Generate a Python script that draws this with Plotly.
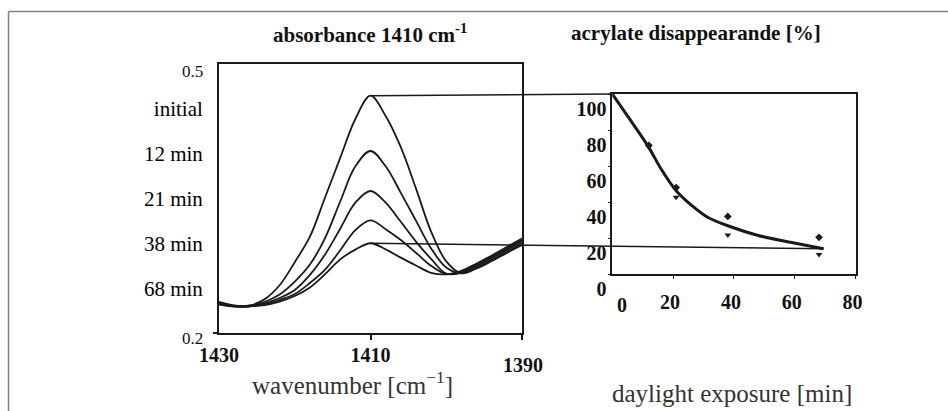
import plotly.graph_objects as go

# ---------------- data ----------------
wavenumber = [1430, 1428, 1426, 1424, 1422, 1420, 1418, 1416, 1414, 1412, 1410,
              1408, 1406, 1404, 1402, 1400, 1398, 1396, 1394, 1392, 1390]
abs_initial = [0.2349, 0.2310, 0.2310, 0.2378, 0.2535, 0.2792, 0.3076, 0.3513, 0.3954, 0.4387, 0.4647,
               0.4421, 0.4073, 0.3614, 0.3133, 0.2801, 0.2668, 0.2722, 0.2805, 0.2895, 0.2984]
abs_12min = [0.2338, 0.2304, 0.2304, 0.2349, 0.2432, 0.2576, 0.2766, 0.3061, 0.3468, 0.3860, 0.4031,
             0.3860, 0.3565, 0.3255, 0.2946, 0.2733, 0.2669, 0.2733, 0.2819, 0.2909, 0.3000]
abs_21min = [0.2332, 0.2301, 0.2301, 0.2332, 0.2393, 0.2483, 0.2651, 0.2878, 0.3165, 0.3455, 0.3585,
             0.3455, 0.3242, 0.3022, 0.2829, 0.2664, 0.2674, 0.2750, 0.2839, 0.2929, 0.3023]
abs_38min = [0.2326, 0.2299, 0.2301, 0.2321, 0.2371, 0.2438, 0.2561, 0.2710, 0.2925, 0.3150, 0.3259,
             0.3160, 0.3039, 0.2898, 0.2752, 0.2661, 0.2688, 0.2763, 0.2852, 0.2945, 0.3039]
abs_68min = [0.2321, 0.2299, 0.2300, 0.2315, 0.2354, 0.2416, 0.2511, 0.2659, 0.2824, 0.2932, 0.3003,
             0.2935, 0.2843, 0.2755, 0.2674, 0.2657, 0.2696, 0.2778, 0.2867, 0.2961, 0.3056]

spectra_ticks = [0.25, 0.3, 0.35, 0.4, 0.45]
spectra_ticktext = ["68 min", "38 min", "21 min", "12 min", "initial"]
absorb_limits = ["0.2", "0.5"]
wn_ticks = [1430, 1410]

exposure_min = [12, 21, 38, 68]
disappear_a = [71.5, 48.0, 32.0, 20.4]   # diamonds
disappear_b = [70.5, 42.6, 21.7, 10.9]   # triangles
fit_t = [0, 4.7, 11.7, 16, 21, 26, 31.5, 38, 48, 59, 69.5]
fit_v = [100, 88.5, 71.2, 58.5, 46.3, 38.3, 31.4, 26.8, 21.4, 17.5, 14.0]
exp_ticks = [20, 40, 60, 80]
pct_ticks = [0, 20, 40, 60, 80, 100]

# ---------------- layout geometry ----------------
W, H = 948, 411
XL_DOM = [219 / W, 522 / W]
YL_DOM = [1 - 333.3 / H, 1 - 64 / H]
XR_DOM = [612.3 / W, 855.5 / W]
YR_DOM = [1 - 274 / H, 1 - 94 / H]
XL_RANGE = [1430, 1390]
YL_RANGE = [0.2, 0.5]
XR_RANGE = [0, 80]
YR_RANGE = [0, 100]

FONT = "Liberation Serif, Times New Roman, serif"
INK = "#1a1a1a"


def to_paper(v, rng, dom):
    f = (v - rng[0]) / (rng[1] - rng[0])
    return dom[0] + f * (dom[1] - dom[0])


fig = go.Figure()

for ys in [abs_initial, abs_12min, abs_21min, abs_38min, abs_68min]:
    fig.add_trace(go.Scatter(x=wavenumber, y=ys, mode="lines",
                             line=dict(color=INK, width=1.8, shape="spline", smoothing=1.0),
                             xaxis="x", yaxis="y", hoverinfo="skip"))

fig.add_trace(go.Scatter(x=fit_t, y=fit_v, mode="lines",
                         line=dict(color=INK, width=3, shape="spline", smoothing=0.8),
                         xaxis="x2", yaxis="y2", hoverinfo="skip"))
fig.add_trace(go.Scatter(x=exposure_min, y=disappear_a, mode="markers",
                         marker=dict(symbol="diamond", size=6, color=INK),
                         xaxis="x2", yaxis="y2"))
fig.add_trace(go.Scatter(x=exposure_min, y=disappear_b, mode="markers",
                         marker=dict(symbol="triangle-down", size=6, color=INK),
                         xaxis="x2", yaxis="y2"))

numfont = dict(family=FONT, size=20, color="#111", weight="bold")
catfont = dict(family=FONT, size=21, color="#000")

fig.update_layout(
    template="none",
    width=W, height=H,
    margin=dict(l=0, r=0, t=0, b=0, pad=0),
    paper_bgcolor="white", plot_bgcolor="white",
    showlegend=False,
    font=dict(family=FONT, color="#111"),
    xaxis=dict(domain=XL_DOM, range=XL_RANGE, anchor="y", automargin=False,
               showline=True, linecolor=INK, linewidth=2, mirror=True,
               showgrid=False, zeroline=False,
               tickmode="array", tickvals=wn_ticks, ticks="",
               tickfont=numfont, ticklabelstandoff=3,
               minor=dict(tickmode="array", tickvals=[1410, 1390], ticks="outside",
                          ticklen=5, tickwidth=1.5, tickcolor=INK, showgrid=False)),
    yaxis=dict(domain=YL_DOM, range=YL_RANGE, anchor="x", automargin=False,
               showline=True, linecolor=INK, linewidth=2, mirror=True,
               showgrid=False, zeroline=False,
               tickmode="array", tickvals=spectra_ticks, ticktext=spectra_ticktext,
               ticks="", tickfont=catfont, ticklabelstandoff=10,
               minor=dict(tickmode="array", tickvals=[0.2], ticks="outside",
                          ticklen=4, tickwidth=1.5, tickcolor=INK, showgrid=False)),
    xaxis2=dict(domain=XR_DOM, range=XR_RANGE, anchor="y2", automargin=False,
                showline=True, linecolor=INK, linewidth=1.5, mirror=True,
                showgrid=False, zeroline=False,
                tickmode="array", tickvals=exp_ticks,
                ticks="outside", ticklen=3, tickwidth=1.2, tickcolor=INK,
                tickfont=numfont, ticklabelstandoff=6, ticklabelshift=-3),
    yaxis2=dict(domain=YR_DOM, range=YR_RANGE, anchor="x2", automargin=False,
                showline=True, linecolor=INK, linewidth=1.5, mirror=True,
                showgrid=False, zeroline=False,
                tickmode="array", tickvals=pct_ticks,
                ticks="outside", ticklen=3, tickwidth=1.2, tickcolor=INK,
                tickfont=numfont, ticklabelstandoff=-3, ticklabelshift=15),
)

# connector lines from the spectra peaks to the kinetics plot
i1410 = wavenumber.index(1410)
top_x0 = to_paper(1410, XL_RANGE, XL_DOM)
top_y0 = to_paper(abs_initial[i1410], YL_RANGE, YL_DOM)
top_x1 = to_paper(fit_t[0], XR_RANGE, XR_DOM)
top_y1 = to_paper(fit_v[0], YR_RANGE, YR_DOM)
bot_y0 = to_paper(abs_68min[i1410], YL_RANGE, YL_DOM)
bot_x1 = to_paper(fit_t[-1], XR_RANGE, XR_DOM)
bot_y1 = to_paper(fit_v[-1], YR_RANGE, YR_DOM)

shapes = [
    dict(type="line", xref="paper", yref="paper", x0=top_x0, y0=top_y0, x1=top_x1, y1=top_y1,
         line=dict(color=INK, width=1.5)),
    dict(type="line", xref="paper", yref="paper", x0=top_x0, y0=bot_y0, x1=bot_x1, y1=bot_y1,
         line=dict(color=INK, width=1.5)),
    # outer frame (left and top edges)
    dict(type="line", xref="paper", yref="paper", x0=8.5 / W, y0=1 - 11.5 / H, x1=8.5 / W, y1=0,
         line=dict(color="#808080", width=1.5)),
    dict(type="line", xref="paper", yref="paper", x0=8.5 / W, y0=1 - 11.5 / H, x1=1, y1=1 - 11.5 / H,
         line=dict(color="#808080", width=1.5)),
]
fig.update_layout(shapes=shapes)

annotations = [
    dict(text="<b>absorbance 1410 cm<sup>-1</sup></b>", x=370 / W, y=1 - 33.5 / H,
         font=dict(family=FONT, size=21, color="#111")),
    dict(text="<b>acrylate disappearande [%]</b>", x=695.5 / W, y=1 - 33.3 / H,
         font=dict(family=FONT, size=21, color="#111")),
    dict(text="wavenumber [cm<sup>\u22121</sup>]", x=352 / W, y=1 - 383 / H,
         font=dict(family=FONT, size=25, color="#333")),
    dict(text="daylight exposure [min]", x=731.7 / W, y=1 - 393.3 / H,
         font=dict(family=FONT, size=25, color="#333")),
    dict(text="1390", x=522.7 / W, y=1 - 365 / H, font=numfont),
    dict(text="0", x=621.7 / W, y=1 - 305 / H, font=numfont),
    dict(text=absorb_limits[1], x=205 / W, y=1 - 71 / H, xanchor="right",
         font=dict(family=FONT, size=17, color="#111")),
    dict(text=absorb_limits[0], x=205 / W, y=1 - 338 / H, xanchor="right",
         font=dict(family=FONT, size=17, color="#111")),
]
for a in annotations:
    a.setdefault("xanchor", "center")
    a.update(xref="paper", yref="paper", showarrow=False, yanchor="middle")
fig.update_layout(annotations=annotations)

fig.write_html("out.html", config={"displayModeBar": False},
               post_script="document.body.style.margin='0px';")
